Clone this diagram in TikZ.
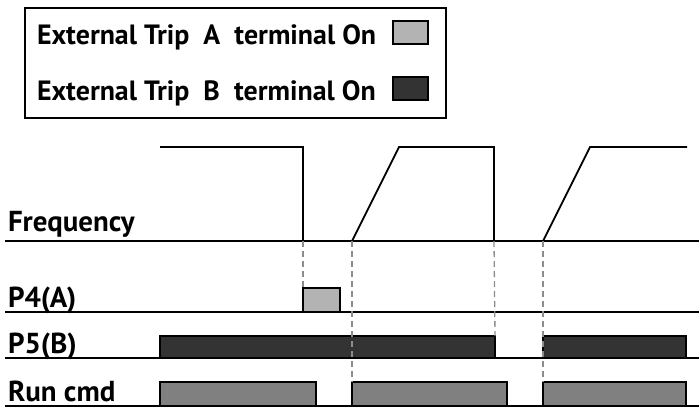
\documentclass[tikz,border=0pt]{standalone}
\usepackage{fontspec}
\setmainfont{PT Sans}
\usetikzlibrary{positioning}
\definecolor{tripa}{RGB}{179,179,179}
\definecolor{tripb}{RGB}{51,51,51}
\definecolor{runfill}{RGB}{128,128,128}
\definecolor{guidegray}{RGB}{140,140,140}

\begin{document}
\begin{tikzpicture}[
    x=1bp, y=-1bp,
    every node/.style={inner sep=0pt, outer sep=0pt},
    legendtext/.style={anchor=base west, font=\bfseries\fontsize{28}{32}\selectfont},
    rowlabel/.style={anchor=base west, font=\bfseries\fontsize{29}{32}\selectfont},
    swatch/.style={draw=black, line width=1.2bp, minimum width=35bp, minimum height=23bp, anchor=north west},
    axis/.style={line width=2.2bp},
    wave/.style={line width=1.8bp},
    bar/.style={draw=black, line width=1.8bp},
    guide/.style={draw=guidegray, line width=1.3bp, dash pattern=on 6bp off 4bp}
]
\useasboundingbox (0,0) rectangle (699,410);

% Legend
\node[draw, line width=1.3bp, minimum width=421bp, minimum height=110bp, anchor=north west] (legend) at (25,8) {};
\node[legendtext] (leg_a) at (37,44) {External Trip\ \ A\ \ terminal On};
\node[legendtext] (leg_b) at (37,100) {External Trip\ \ B\ \ terminal On};
\node[swatch, fill=tripa] (sw_a) at (393,21) {};
\node[swatch, fill=tripb] (sw_b) at (393,77) {};

% Row labels
\node[rowlabel] (freq) at (8,231) {Frequency};
\node[rowlabel] (p4) at (8,307) {P4(A)};
\node[rowlabel] (p5) at (8,353) {P5(B)};
\node[rowlabel] (run) at (8,401) {Run cmd};

% Event times on the frequency axis
\coordinate (t_trip) at (303,241);
\coordinate (t_start) at (352,241);
\coordinate (t_stop) at (494,241);
\coordinate (t_restart) at (543,241);

% Base lines
\draw[axis] (5,241) -- (699,241);
\draw[axis] (5,312) -- (699,312);
\draw[axis] (5,358) -- (699,358);
\draw[axis] (5,406) -- (699,406);

% Frequency
\draw[wave] (160,147) -| (t_trip);
\draw[wave] (t_start) -- (399,147) -- (494,147) -- (t_stop);
\draw[wave] (t_restart) -- (590,147) -- (687,147);

% P4(A)
\node[bar, fill=tripa, minimum width=37bp, minimum height=24bp, anchor=south west] (p4_on) at (303,312) {};

% P5(B)
\node[bar, fill=tripb, minimum width=335bp, minimum height=22bp, anchor=south west] (p5_on) at (160,358) {};
\node[bar, fill=tripb, minimum width=143bp, minimum height=22bp, anchor=south west] (p5_on2) at (543,358) {};

% Run cmd
\node[bar, fill=runfill, minimum width=156bp, minimum height=24bp, anchor=south west] (run_on) at (160,406) {};
\node[bar, fill=runfill, minimum width=155bp, minimum height=24bp, anchor=south west] (run_on2) at (352,406) {};
\node[bar, fill=runfill, minimum width=143bp, minimum height=24bp, anchor=south west] (run_on3) at (543,406) {};

% Guides
\draw[guide] (t_trip) -- (p4_on.north west);
\draw[guide] (t_start) -- (run_on2.north west);
\draw[guide] (t_stop) -- (p5_on.north east);
\draw[guide] (t_restart) -- (run_on3.north west);

\end{tikzpicture}
\end{document}
